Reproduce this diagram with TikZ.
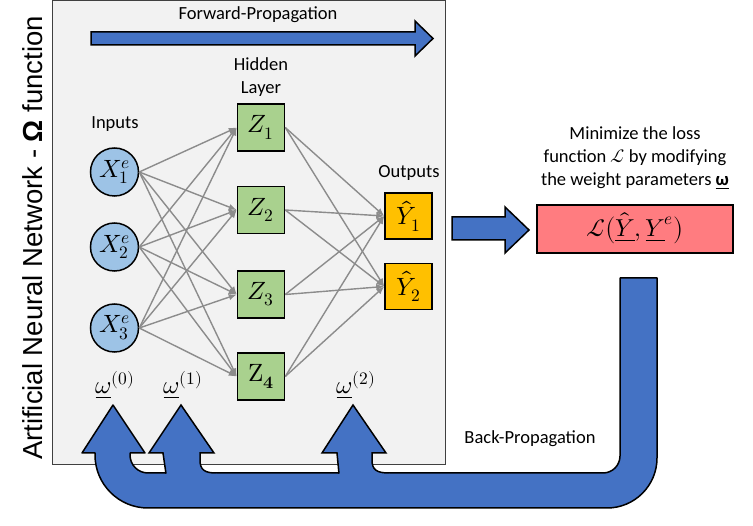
\documentclass[tikz,border=0pt]{standalone}
\usepackage{amsmath}
\usepackage{fontspec}
\usepackage{unicode-math}
\setmainfont{Carlito}
\setmathfont{Latin Modern Math}
\newfontfamily\arialfont{Liberation Sans}
\usetikzlibrary{arrows.meta}
\definecolor{blueA}{HTML}{4472C4}
\definecolor{panelgray}{HTML}{F2F2F2}
\definecolor{greenZ}{HTML}{A9D18E}
\definecolor{goldY}{HTML}{FFC000}
\definecolor{blueX}{HTML}{9DC3E6}
\definecolor{salmon}{HTML}{FF7C80}
\definecolor{edgegray}{HTML}{8C8C8C}
\begin{document}
\begin{tikzpicture}[x=1pt,y=-1pt,
  lbl/.style={font=\fontsize{18.5}{23}\selectfont, inner sep=0, align=center},
  mathtxt/.style={font=\fontsize{25}{29}\selectfont},
  zbox/.style={draw, line width=1.5pt, fill=greenZ, minimum width=47pt, minimum height=47pt, inner sep=0, mathtxt},
  ybox/.style={draw, line width=1.5pt, fill=goldY, minimum width=47pt, minimum height=46pt, inner sep=0, mathtxt},
  xnode/.style={circle, draw, line width=1.5pt, fill=blueX, minimum size=48pt, inner sep=0, mathtxt},
  conn/.style={draw=edgegray, line width=1.4pt, -{Latex[length=8pt,width=6.5pt]}},
  blockarrow/.style={fill=blueA, draw=black, line width=1.5pt, line join=miter}
]
\useasboundingbox (0,0) rectangle (753,526);
% panel
\draw[fill=panelgray, draw=black!75, line width=0.8pt] (52,0.5) rectangle (445,464);
% title
\node[rotate=90, font=\arialfont\fontsize{27.5}{30}\selectfont, inner sep=0] (title) at (33,238) {Artificial Neural Network - \textbf{Ω} function};
% forward propagation
\node[lbl] (fwdtxt) at (258,15) {Forward-Propagation};
\draw[blockarrow] (91,32) -- (415,32) -- (415,21) -- (433,38.5) -- (415,56) -- (415,45) -- (91,45) -- cycle;
% labels
\node[lbl] (hidden) at (261,77) {Hidden\\Layer};
\node[lbl] (inputs) at (115,124) {Inputs};
\node[lbl] (outputs) at (409,173) {Outputs};
% nodes
\node[xnode] (x1) at (114.5,172) {$X_1^e$};
\node[xnode] (x2) at (114.5,247) {$X_2^e$};
\node[xnode] (x3) at (114.5,328) {$X_3^e$};
\node[zbox] (z1) at (261,127.5) {$Z_1$};
\node[zbox] (z2) at (261,210) {$Z_2$};
\node[zbox] (z3) at (261,294.5) {$Z_3$};
\node[zbox] (z4) at (261,376.5) {$\symup{Z}_{\symbf{4}}$};
\node[ybox] (y1) at (408.5,216) {$\hat{Y}_1$};
\node[ybox] (y2) at (408.5,286.5) {$\hat{Y}_2$};
% connectors
\foreach \i in {1,2,3}{\foreach \j in {1,2,3,4}{\draw[conn] (x\i.east) -- (z\j.west);}}
\foreach \j in {1,2,3,4}{\foreach \k in {1,2}{\draw[conn] (z\j.east) -- (y\k.west);}}
% omega labels
\node[mathtxt, inner sep=0] (om0) at (115,385) {$\underline{\omega}^{(0)}$};
\node[mathtxt, inner sep=0] (om1) at (183,385) {$\underline{\omega}^{(1)}$};
\node[mathtxt, inner sep=0] (om2) at (356,385) {$\underline{\omega}^{(2)}$};
% right arrow and loss
\draw[blockarrow] (452,217) -- (505,217) -- (505,207) -- (529,230) -- (505,253) -- (505,240) -- (452,240) -- cycle;
\node[lbl] (mintxt) at (635,158) {Minimize the loss\\function $\mathcal{L}$ by modifying\\the weight parameters \underline{\textbf{ω}}};
\node[draw, line width=1.5pt, fill=salmon, minimum width=196pt, minimum height=48pt, inner sep=0, font=\fontsize{24.5}{28}\selectfont] (loss) at (635,229) {$\mathcal{L}\big(\underline{\hat{Y}},\underline{Y}^e\big)$};
% back propagation U arrow
\draw[blockarrow, line join=round] (620,278) -- (657,278) -- (657,458)
  arc[start angle=0, end angle=90, radius=50] -- (148,508)
  arc[start angle=90, end angle=180, radius=53] -- (95,453) -- (82,453) -- (113,405) -- (145,453) -- (130,453) -- (130,455)
  arc[start angle=180, end angle=90, radius=18] -- (603,473)
  arc[start angle=90, end angle=0, radius=17] -- cycle;
% arrow 1
\fill[blueA] (166,476) -- (163,453) -- (149,453) -- (181,405) -- (214,453) -- (200,453) -- (200,460) .. controls (200,470) and (205,473) .. (216,473) -- (216,476) -- cycle;
\draw[line width=1.5pt, line join=miter] (166,473.7) -- (163,453) -- (149,453) -- (181,405) -- (214,453) -- (200,453) -- (200,460) .. controls (200,470) and (205,473) .. (216,473);
% arrow 2
\fill[blueA] (339,476) -- (337,453) -- (322,453) -- (353,405) -- (386,453) -- (372,453) -- (372,460) .. controls (372,470) and (377,473) .. (389,473) -- (389,476) -- cycle;
\draw[line width=1.5pt, line join=miter] (339,473.7) -- (337,453) -- (322,453) -- (353,405) -- (386,453) -- (372,453) -- (372,460) .. controls (372,470) and (377,473) .. (389,473);
\node[lbl] (backtxt) at (530,439) {Back-Propagation};
\end{tikzpicture}
\end{document}
